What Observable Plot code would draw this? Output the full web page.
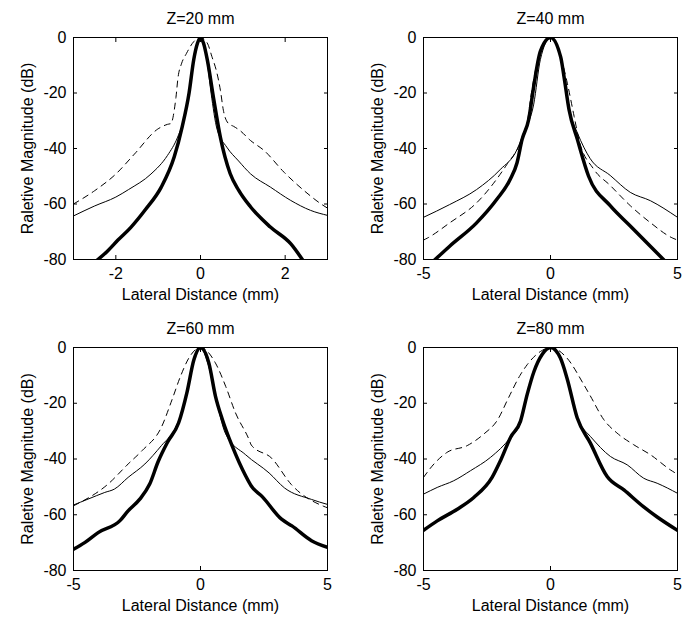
<!DOCTYPE html>
<html>
<head>
<meta charset="utf-8">
<script src="https://cdn.jsdelivr.net/npm/d3@7"></script>
<script src="https://cdn.jsdelivr.net/npm/@observablehq/plot@0.6"></script>
<style>
  html, body { margin: 0; padding: 0; background: #fff; }
  #wrap { position: relative; width: 691px; height: 621px; background: #fff; overflow: hidden; }
  #wrap > div { position: absolute; }
</style>
</head>
<body>
<div id="wrap">
  <div id="p1" style="left:0;top:0"></div>
  <div id="p2" style="left:345px;top:0"></div>
  <div id="p3" style="left:0;top:310px"></div>
  <div id="p4" style="left:345px;top:310px"></div>
</div>
<script>
// ---- texts and ticks ----
const titles = ["Z=20 mm", "Z=40 mm", "Z=60 mm", "Z=80 mm"];
const xLabel = "Lateral Distance (mm)";
const yLabel = "Raletive Magnitude (dB)";
const yTicks = [0, -20, -40, -60, -80];
const xTicksNarrow = [-2, 0, 2];
const xTicksWide = [-5, 0, 5];
const xDomainNarrow = [-3, 3];
const xDomainWide = [-5, 5];
const yDomain = [-80, 0];

// ---- Z = 20 mm ----
const z20ThickX = [-2.5, -2.2, -1.95, -1.65, -1.3, -0.93, -0.62, -0.43, -0.27, -0.16, -0.07, 0, 0.07, 0.16, 0.31, 0.47, 0.7, 0.9, 1.18, 1.65, 2.13, 2.45];
const z20ThickDb = [-81, -77, -73, -68.5, -62, -54, -43, -32, -20, -8, -2, 0, -2, -8, -22, -36, -49, -55, -61, -68.3, -74.3, -81];
const z20ThinX = [-3, -2.5, -2, -1.7, -1.17, -0.78, -0.54, -0.35, -0.25, -0.15, -0.07, 0, 0.07, 0.15, 0.25, 0.39, 0.62, 0.9, 1.18, 1.65, 2.13, 2.6, 3];
const z20ThinDb = [-64.3, -60.7, -57.5, -54.8, -49.2, -42.5, -35.9, -27, -18, -8, -2, 0, -2, -8, -20, -33, -39.5, -44.5, -49.1, -53.9, -58.7, -62.3, -64.1];
const z20DashX = [-3, -2.5, -2, -1.56, -1.01, -0.78, -0.7, -0.58, -0.53, -0.45, -0.33, -0.16, 0, 0.16, 0.27, 0.39, 0.47, 0.54, 0.66, 0.78, 0.93, 1.18, 1.5, 1.97, 2.44, 2.84, 3];
const z20DashDb = [-60, -55.2, -49.2, -42, -33, -31.3, -31, -21.6, -14.3, -9.5, -5.7, -1.5, 0, -2, -6.9, -12.9, -19, -26.2, -31, -32, -33.5, -37.1, -40.7, -48.5, -55.1, -59.9, -61.5];

// ---- Z = 40 mm ----
const z40ThickX = [-4.6, -3.97, -2.91, -2.12, -1.59, -1.32, -1.12, -0.86, -0.66, -0.4, 0, 0.4, 0.53, 0.73, 1.06, 1.5, 2.35, 3.14, 3.93, 4.5];
const z40ThickDb = [-80.5, -75.2, -66.8, -58.4, -51.2, -45.2, -36.8, -29.6, -17.6, -5, 0, -7, -14, -26, -36.8, -50, -60.6, -67.9, -75.2, -80.5];
const z40ThinX = [-5, -3.97, -2.91, -1.98, -1.32, -1.06, -0.66, -0.4, 0, 0.4, 0.6, 0.8, 1.06, 1.56, 2.35, 3.14, 3.93, 5];
const z40ThinDb = [-64.8, -60.2, -54.8, -47.6, -40.4, -34.4, -24, -8, 0, -7, -18, -28, -34.4, -43.6, -49.7, -55.8, -58.8, -64.8];
const z40DashX = [-5, -4.83, -3.97, -2.91, -1.72, -1.19, -0.9, -0.79, -0.53, -0.26, 0, 0.2, 0.4, 0.66, 0.93, 1.12, 1.69, 2.35, 3.14, 3.93, 4.79, 5];
const z40DashDb = [-73, -72.2, -66.8, -59.6, -45.8, -38, -30, -22.4, -9.2, -2, 0, -1.5, -6.8, -16.4, -28.4, -36.8, -47.3, -53.3, -60.6, -66.7, -72.2, -73];

// ---- Z = 60 mm ----
const z60ThickX = [-5, -4.56, -4.03, -3.18, -2.85, -2.39, -2, -1.67, -1.3, -0.86, -0.53, -0.26, 0, 0.33, 0.59, 0.86, 1.25, 1.78, 2, 2.43, 3.19, 3.6, 4.37, 5];
const z60ThickDb = [-72.4, -70, -66.4, -62.2, -58.6, -54.4, -49, -41, -34, -27, -16, -4.4, 0, -5.6, -17.5, -25.8, -35.4, -46.1, -49.7, -53.5, -61.6, -64, -69.3, -71.7];
const z60ThinX = [-5, -4.43, -3.77, -3.39, -2.85, -2.19, -1.54, -1, -0.59, -0.3, 0, 0.3, 0.59, 0.99, 1.78, 2.7, 3.31, 4.37, 5];
const z60ThinDb = [-56.5, -54.4, -52, -50.8, -46.6, -41.8, -35.2, -29, -19, -6, 0, -6, -17.5, -31, -38.5, -45, -50.4, -54.5, -56.3];
const z60DashX = [-5, -3.64, -2.85, -2.3, -1.54, -1.12, -0.79, -0.46, 0, 0.59, 0.99, 1.38, 1.91, 2, 2.8, 3.58, 4.83, 5];
const z60DashDb = [-56.8, -49, -41.8, -37, -28.6, -18.7, -10.4, -3.8, 0, -5.6, -13.9, -23.5, -33, -35, -39.7, -49.2, -56.9, -57.5];

// ---- Z = 80 mm ----
const z80ThickX = [-5, -4.46, -3.67, -3.02, -2.3, -1.97, -1.57, -1.18, -0.92, -0.65, -0.33, 0, 0.39, 0.65, 1.05, 1.57, 2.23, 2.89, 3.67, 4.2, 5];
const z80ThickDb = [-65.6, -62.2, -58, -53.8, -46.6, -40.6, -32.2, -26.4, -16.9, -8.6, -2.5, 0, -3.8, -11, -25.2, -34.3, -46.3, -51.1, -57.2, -60.8, -65.6];
const z80ThinX = [-5, -4.46, -3.81, -3.15, -2.36, -1.57, -1.18, -0.92, -0.65, -0.33, 0, 0.39, 0.65, 1.05, 1.18, 1.57, 2.36, 3.02, 3.67, 4.2, 5];
const z80ThinDb = [-52.6, -50.2, -47.8, -44.2, -39.4, -32.2, -27, -17, -8.6, -2.5, 0, -3.8, -11, -25.2, -27.6, -31.9, -39.1, -42.1, -46.9, -48.7, -52.3];
const z80DashX = [-5, -4.59, -4.07, -3.28, -2.62, -2.1, -1.64, -1.2, -0.92, -0.39, 0, 0.65, 1.31, 1.57, 2.1, 2.62, 3.28, 3.94, 4.72, 5];
const z80DashDb = [-46.6, -41.8, -37.6, -35.2, -31, -26.2, -17.8, -10, -6.2, -1.4, 0, -3.8, -13.3, -17.4, -25.9, -30.7, -34.9, -38.5, -43.9, -45.5];

const zip = (xs, ys) => xs.map((x, i) => ({x, y: ys[i]}));

function panel(el, opts) {
  const {title, xDomain, xTicks, thick, thin, dash, width, mLeft, mRight, height} = opts;
  const fmt = d => String(d);
  const chart = Plot.plot({
    width, height,
    marginLeft: mLeft, marginRight: mRight, marginTop: 37, marginBottom: 51,
    style: {fontFamily: "'Liberation Sans', Arial, Helvetica, sans-serif", fontSize: "16px", color: "black", background: "white"},
    x: {domain: xDomain},
    y: {domain: yDomain},
    marks: [
      Plot.axisY(yTicks, {anchor: "left", tickSize: -4, tickPadding: 11, tickFormat: fmt, label: null}),
      Plot.axisY(yTicks, {anchor: "right", tickSize: -4, tickFormat: () => "", label: null}),
      Plot.axisX(xTicks, {anchor: "bottom", tickSize: -4, tickPadding: 12, tickFormat: fmt, label: null}),
      Plot.axisX(xTicks, {anchor: "top", tickSize: -4, tickFormat: () => "", label: null}),
      Plot.line(dash, {x: "x", y: "y", stroke: "black", strokeWidth: 1, strokeDasharray: "6,5", curve: "monotone-x", clip: true}),
      Plot.line(thin, {x: "x", y: "y", stroke: "black", strokeWidth: 1, curve: "monotone-x", clip: true}),
      Plot.line(thick, {x: "x", y: "y", stroke: "black", strokeWidth: 3.5, strokeLinejoin: "round", curve: "monotone-x", clip: true}),
      Plot.frame({stroke: "black", strokeWidth: 1}),
      Plot.text([title], {frameAnchor: "top", dy: -19, lineAnchor: "middle", textAnchor: "middle", fill: "black"}),
      Plot.text([xLabel], {frameAnchor: "bottom", dy: 35, lineAnchor: "middle", textAnchor: "middle", fill: "black"}),
      Plot.text([yLabel], {frameAnchor: "left", dx: -46, rotate: -90, lineAnchor: "middle", textAnchor: "middle", fill: "black"})
    ]
  });
  document.getElementById(el).appendChild(chart);
}

panel("p1", {title: titles[0], xDomain: xDomainNarrow, xTicks: xTicksNarrow,
  thick: zip(z20ThickX, z20ThickDb), thin: zip(z20ThinX, z20ThinDb), dash: zip(z20DashX, z20DashDb),
  width: 345, mLeft: 73, mRight: 18, height: 310});
panel("p2", {title: titles[1], xDomain: xDomainWide, xTicks: xTicksWide,
  thick: zip(z40ThickX, z40ThickDb), thin: zip(z40ThinX, z40ThinDb), dash: zip(z40DashX, z40DashDb),
  width: 346, mLeft: 78, mRight: 14, height: 310});
panel("p3", {title: titles[2], xDomain: xDomainWide, xTicks: xTicksWide,
  thick: zip(z60ThickX, z60ThickDb), thin: zip(z60ThinX, z60ThinDb), dash: zip(z60DashX, z60DashDb),
  width: 345, mLeft: 73, mRight: 18, height: 311});
panel("p4", {title: titles[3], xDomain: xDomainWide, xTicks: xTicksWide,
  thick: zip(z80ThickX, z80ThickDb), thin: zip(z80ThinX, z80ThinDb), dash: zip(z80DashX, z80DashDb),
  width: 346, mLeft: 78, mRight: 14, height: 311});
</script>
</body>
</html>
